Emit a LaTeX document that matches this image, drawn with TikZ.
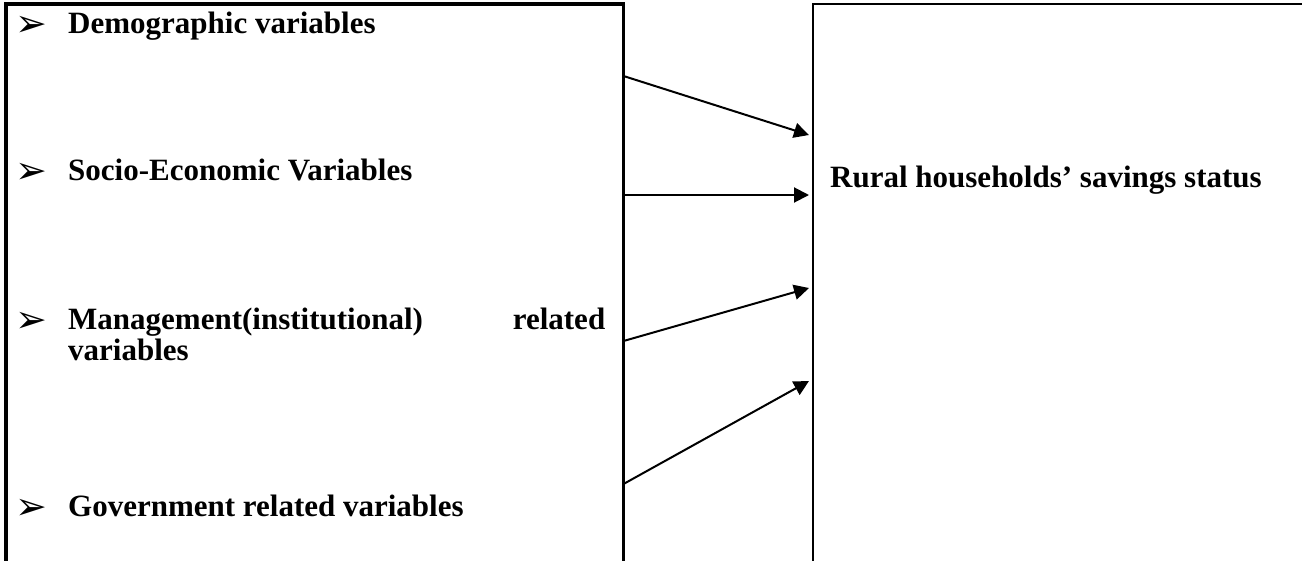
\documentclass[tikz,border=0pt]{standalone}
\usepackage{fontspec}
\setmainfont{Liberation Serif}
\newfontfamily\dingfont{DejaVu Sans}
\usepackage{tikz}
\usetikzlibrary{arrows.meta}
\tikzstyle{arrow} = [line width=2pt,-{Triangle[length=15pt,width=15pt]}]
\newcommand{\itemmark}{\leavevmode\llap{\raisebox{-3pt}{\dingfont\fontsize{38}{38}\selectfont ➢}\hspace{21pt}}}

\begin{document}
\begin{tikzpicture}[x=1pt,y=1pt,
    box/.style={draw,inner sep=0pt,outer sep=0pt,anchor=north west},
    factor/.style={anchor=base west,inner sep=0pt,font=\fontsize{31}{31}\selectfont\bfseries},
  ]
  \useasboundingbox (0,0) rectangle (1302,-560);
  \node[box,line width=3.2pt,minimum width=617.5pt,minimum height=600pt] (factors) at (6,-4) {};
  \node[box,line width=2.4pt,minimum width=520pt,minimum height=600pt] (status) at (813,-4) {};

  \node[factor] (demo) at (68,-33) {\itemmark Demographic variables};
  \node[factor] (socio) at (68,-180) {\itemmark Socio-Economic Variables};
  \node[factor,text width=537pt,align=left] (mgmt) at (68,-329)
    {\itemmark Management(institutional)\hfill related\\variables};
  \node[factor] (gov) at (68,-516) {\itemmark Government related variables};
  \node[factor] (rural) at (830,-187) {Rural households’ savings status};

  \draw[arrow] ([yshift=-72pt]factors.north east) -- ([xshift=-4pt,yshift=-131pt]status.north west);
  \draw[arrow] ([yshift=-191pt]factors.north east) -- ([xshift=-4pt,yshift=-191pt]status.north west);
  \draw[arrow] ([yshift=-337pt]factors.north east) -- ([xshift=-4pt,yshift=-284pt]status.north west);
  \draw[arrow] ([yshift=-480pt]factors.north east) -- ([xshift=-4pt,yshift=-377pt]status.north west);
\end{tikzpicture}
\end{document}
